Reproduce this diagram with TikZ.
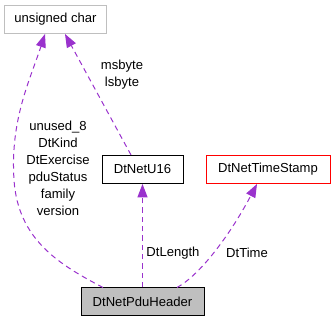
\documentclass[tikz,border=0pt]{standalone}
\usepackage{fontspec}
\setmainfont{Liberation Sans}
\usetikzlibrary{arrows.meta,calc}
\definecolor{edgec}{HTML}{9A32CD}
\definecolor{grayb}{HTML}{BFBFBF}
\begin{document}
\begin{tikzpicture}[x=0.75pt,y=-0.75pt,
  box/.style={draw, line width=0.75pt, minimum height=21pt, inner sep=0pt, font=\fontsize{9.8pt}{12pt}\selectfont},
  lbl/.style={font=\fontsize{9.8pt}{12.75pt}\selectfont, inner sep=0pt, align=center},
  edge/.style={draw=edgec, line width=0.75pt, dash pattern=on 4pt off 3pt, -{Triangle[length=10pt,width=7.5pt,fill=edgec]}}]
\useasboundingbox (0,0) rectangle (335,323);
\node[box, draw=grayb, minimum width=77pt] (uc) at (55.5,19.5) {unsigned char};
\node[box, minimum width=60.75pt] (u16) at (142.5,169.5) {DtNetU16};
\node[box, draw=red, minimum width=93pt] (ts) at (268,169.5) {DtNetTimeStamp};
\node[box, fill=grayb, minimum width=92.25pt] (pdu) at (142.5,302) {DtNetPduHeader};
% edges
\draw[edge] ($(pdu.north)+(-39.5,0)$) .. controls (60,265) and (18,240) .. (14,180)
   .. controls (10,120) and (30,80) .. ($(uc.south)+(-10.5,0)$);
\draw[edge] ($(u16.north)+(-11.5,0)$) -- ($(uc.south)+(9.5,0)$);
\draw[edge] (pdu.north) -- (u16.south);
\draw[edge] ($(pdu.north)+(34.5,0)$) .. controls (200,275) and (230,235) .. ($(ts.south)+(-11,0)$);
% labels
\node[lbl] (l1) at (58,168) {unused\_8\\DtKind\\DtExercise\\pduStatus\\family\\version};
\node[lbl] (l2) at (122,75) {msbyte\\lsbyte};
\node[lbl] (l3) at (173,253) {DtLength};
\node[lbl] (l4) at (247,253) {DtTime};
\end{tikzpicture}
\end{document}
